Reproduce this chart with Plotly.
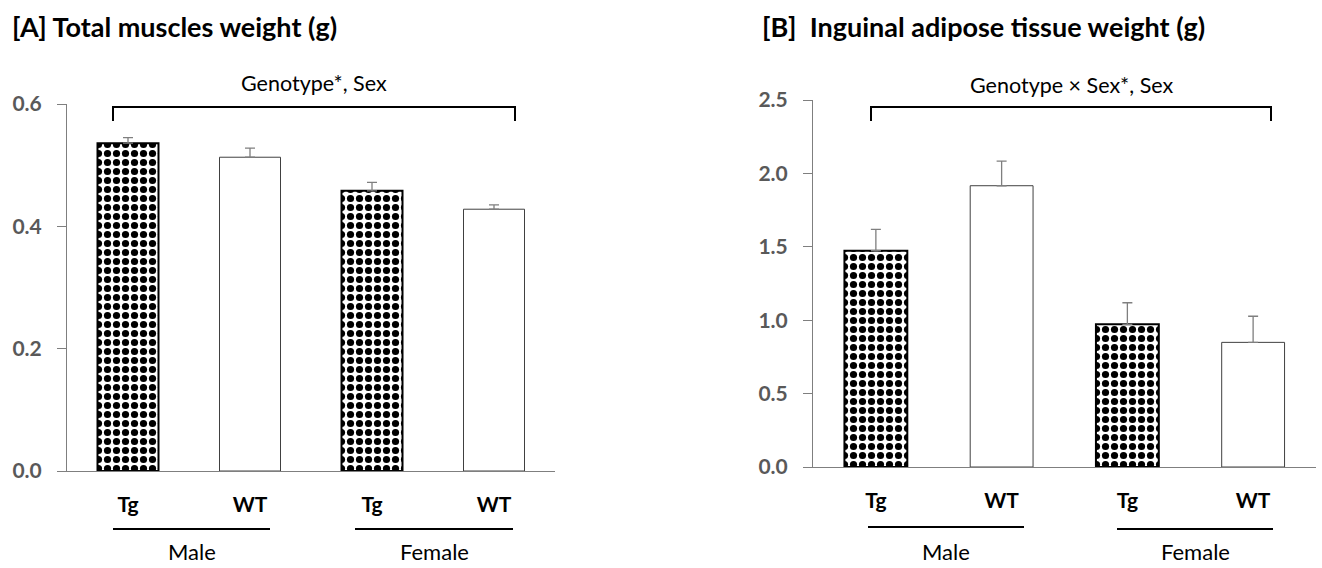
import plotly.graph_objects as go

categories = ["Male Tg", "Male WT", "Female Tg", "Female WT"]
genotype_labels = ["Tg", "WT", "Tg", "WT"]
sex_labels = ["Male", "Female"]

muscle_mean = [0.536, 0.513, 0.458, 0.428]
muscle_err = [0.009, 0.015, 0.014, 0.007]

adipose_mean = [1.473, 1.916, 0.972, 0.849]
adipose_err = [0.146, 0.168, 0.147, 0.178]

FONT = "Lato"
W, H = 1322, 568

fig = go.Figure()

def add_panel(values, errs, xa, ya):
    for i, (c, v, e) in enumerate(zip(categories, values, errs)):
        tg = genotype_labels[i] == "Tg"
        marker = dict(color="white",
                      line=dict(color="black" if tg else "#404040", width=2 if tg else 1))
        if tg:
            marker["pattern"] = dict(shape=".", fgcolor="black", bgcolor="white",
                                     size=9, solidity=0.5, fillmode="replace")
        fig.add_trace(go.Bar(
            x=[c], y=[v], width=0.5, marker=marker,
            error_y=dict(type="data", array=[e], arrayminus=[0], symmetric=False,
                         color="#7f7f7f", thickness=1.3, width=5),
            xaxis=xa, yaxis=ya, showlegend=False))

add_panel(muscle_mean, muscle_err, "x", "y")
add_panel(adipose_mean, adipose_err, "x2", "y2")

tickfont_y = dict(family=FONT, size=21, color="#595959", weight="bold")
tickfont_x = dict(family=FONT, size=21, color="black", weight="bold")

xcommon = dict(type="category", categoryorder="array", categoryarray=categories,
               tickvals=categories, ticktext=genotype_labels, tickfont=tickfont_x,
               showline=True, linecolor="#7f7f7f", linewidth=1, ticks="",
               showgrid=False, zeroline=False, range=[-0.5, 3.5],
               ticklabelstandoff=15, fixedrange=True, automargin=False)
ycommon = dict(showline=True, linecolor="#7f7f7f", linewidth=1, ticks="outside",
               ticklen=9, tickcolor="#7f7f7f", showgrid=False, zeroline=False,
               tickfont=tickfont_y, ticklabelstandoff=11, fixedrange=True, automargin=False)

fig.update_layout(
    width=W, height=H,
    margin=dict(l=0, r=0, t=0, b=0),
    paper_bgcolor="white", plot_bgcolor="white",
    bargap=0.5,
    xaxis=dict(domain=[67 / W, 555 / W], anchor="y", **xcommon),
    yaxis=dict(domain=[1 - 471 / H, 1 - 104 / H], anchor="x", range=[0, 0.6],
               tickvals=[0, 0.2, 0.4, 0.6], tickformat=".1f", **ycommon),
    xaxis2=dict(domain=[813 / W, 1316 / W], anchor="y2", **xcommon),
    yaxis2=dict(domain=[1 - 467 / H, 1 - 100 / H], anchor="x2", range=[0, 2.5],
                tickvals=[0, 0.5, 1.0, 1.5, 2.0, 2.5], tickformat=".1f", **ycommon),
)

# Titles
fig.add_annotation(text="[A] Total muscles weight (g)", xref="paper", yref="paper",
                   x=10 / W, y=1 - 26 / H, xanchor="left", yanchor="middle",
                   showarrow=False, font=dict(family=FONT, size=27, color="black", weight="bold"))
fig.add_annotation(text="[B]  Inguinal adipose tissue weight (g)", xref="paper", yref="paper",
                   x=760 / W, y=1 - 26 / H, xanchor="left", yanchor="middle",
                   showarrow=False, font=dict(family=FONT, size=27, color="black", weight="bold"))

def bracket(x0, x1, ytop, ybot, text, ytext):
    fig.add_shape(type="path",
                  path=f"M {x0/W},{1-ybot/H} L {x0/W},{1-ytop/H} L {x1/W},{1-ytop/H} L {x1/W},{1-ybot/H}",
                  xref="paper", yref="paper", line=dict(color="black", width=2))
    fig.add_annotation(text=text, xref="paper", yref="paper", x=(x0 + x1) / 2 / W,
                       y=1 - ytext / H, showarrow=False, xanchor="center", yanchor="middle",
                       font=dict(family=FONT, size=21.5, color="black"))

bracket(113, 515, 107, 121, "Genotype*, Sex", 83)
bracket(871, 1271, 107, 121, "Genotype × Sex*, Sex", 85)

def sex_group(x0, x1, yline, ytext, label):
    fig.add_shape(type="line", xref="paper", yref="paper", x0=x0 / W, x1=x1 / W,
                  y0=1 - yline / H, y1=1 - yline / H, line=dict(color="black", width=2))
    fig.add_annotation(text=label, xref="paper", yref="paper", x=(x0 + x1) / 2 / W,
                       y=1 - ytext / H, showarrow=False, xanchor="center", yanchor="middle",
                       borderpad=0, font=dict(family=FONT, size=22, color="black"))

sex_group(113, 270, 529, 551, sex_labels[0])
sex_group(355, 513, 529, 551, sex_labels[1])
sex_group(868, 1024, 527, 551, sex_labels[0])
sex_group(1117, 1273, 529, 551, sex_labels[1])

post = ("document.documentElement.style.margin='0';document.body.style.margin='0';"
        "document.documentElement.style.overflow='hidden';document.body.style.overflow='hidden';")

fig.write_html("out.html", post_script=post, config={"displayModeBar": False})
